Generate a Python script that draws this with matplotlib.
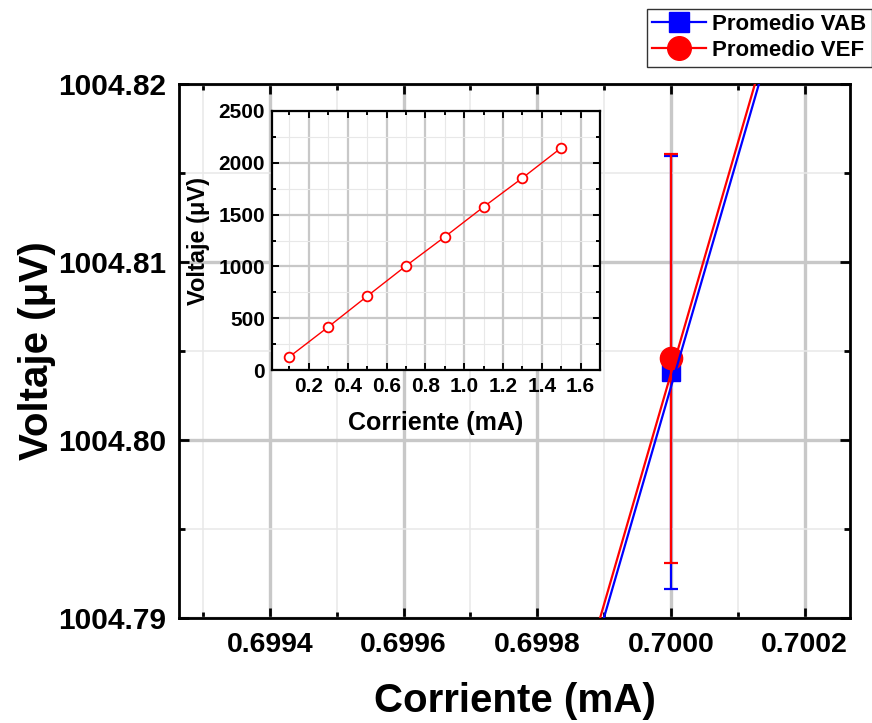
#!/usr/bin/python3
import matplotlib
matplotlib.use('Agg')
import matplotlib.pyplot as plt
from matplotlib.ticker import MultipleLocator, FormatStrFormatter

plt.rcParams['font.family'] = ['Liberation Sans', 'DejaVu Sans']
plt.rcParams['font.weight'] = 'bold'
plt.rcParams['axes.labelweight'] = 'bold'

# promedios a 0.7 mA
corriente_prom = [0.7000]
vab_prom = [1004.8038]
vab_err = [0.01216]
vef_prom = [1004.8046]
vef_err = [0.01149]

# rectas de ajuste en la zona ampliada
vab_fit_x = [0.6998997, 0.7001317]
vab_fit_y = [1004.79, 1004.82]
vef_fit_x = [0.6998940, 0.7001257]
vef_fit_y = [1004.79, 1004.82]

# curva completa (recuadro)
corriente = [0.1, 0.3, 0.5, 0.7, 0.9, 1.1, 1.3, 1.5]
voltaje = [128, 416, 712, 1004.8, 1285, 1574, 1853, 2144]

xticks_main = [0.6994, 0.6996, 0.6998, 0.7000, 0.7002]
yticks_main = [1004.79, 1004.80, 1004.81, 1004.82]


def estilo_ejes(ax, grid_major, grid_minor, spine_w, maj_len, min_len, tick_w):
    for s in ax.spines.values():
        s.set_linewidth(spine_w)
    ax.tick_params(which='both', direction='in', top=True, right=True, width=tick_w)
    ax.tick_params(which='major', length=maj_len)
    ax.tick_params(which='minor', length=min_len)
    ax.grid(True, which='major', color='#c8c8c8', linewidth=grid_major)
    ax.grid(True, which='minor', color='#e8e8e8', linewidth=grid_minor)
    ax.set_axisbelow(True)


if __name__ == '__main__':

    fig = plt.figure()
    fig.set_size_inches(8.72, 7.23)

    ax = fig.add_axes([0.2053, 0.1452, 0.7695, 0.7386])

    ax.errorbar(corriente_prom, vab_prom, yerr=vab_err, fmt='none', ecolor='blue',
                elinewidth=1.6, capsize=4.7, capthick=1.6, zorder=3)
    ax.plot(corriente_prom, vab_prom, 's', color='blue', markersize=13.5, zorder=4)
    ax.errorbar(corriente_prom, vef_prom, yerr=vef_err, fmt='none', ecolor='red',
                elinewidth=1.6, capsize=4.7, capthick=1.6, zorder=5)
    ax.plot(corriente_prom, vef_prom, 'o', color='red', markersize=16, zorder=6)

    ax.plot(vab_fit_x, vab_fit_y, '-', color='blue', linewidth=1.6, zorder=7)
    ax.plot(vef_fit_x, vef_fit_y, '-', color='red', linewidth=1.6, zorder=7)

    ax.set_xlim(0.699264, 0.700268)
    ax.set_ylim(1004.79, 1004.82)
    ax.set_xticks(xticks_main)
    ax.set_yticks(yticks_main)
    ax.xaxis.set_major_formatter(FormatStrFormatter('%.4f'))
    ax.yaxis.set_major_formatter(FormatStrFormatter('%.2f'))
    ax.xaxis.set_minor_locator(MultipleLocator(0.0001))
    ax.yaxis.set_minor_locator(MultipleLocator(0.005))
    estilo_ejes(ax, 2.4, 1.1, 2.0, 7, 4, 2.0)
    ax.tick_params(axis='x', labelsize=20.5, pad=10)
    ax.tick_params(axis='y', labelsize=21.5, pad=9)
    ax.set_xlabel('Corriente (mA)', fontsize=29, labelpad=17)
    ax.set_ylabel('Voltaje (μV)', fontsize=29, labelpad=2)

    # leyenda fuera del área de los ejes
    h1, = ax.plot([], [], '-s', color='blue', markersize=14.5, linewidth=1.6)
    h2, = ax.plot([], [], '-o', color='red', markersize=17, linewidth=1.6)
    leg = fig.legend([h1, h2], ['Promedio VAB', 'Promedio VEF'], loc='upper right',
                     bbox_to_anchor=(1.0, 0.988), frameon=True,
                     fancybox=False, edgecolor='black', handlelength=2.4,
                     handletextpad=0.3, borderpad=0.25, labelspacing=0.22,
                     borderaxespad=0.0, prop={'weight': 'bold', 'size': 16})
    leg.get_frame().set_linewidth(1.0)

    # recuadro con la curva completa
    axi = fig.add_axes([0.3119, 0.4882, 0.3762, 0.3583])
    axi.plot(corriente, voltaje, '-o', color='red', linewidth=1.0, markersize=7,
             markerfacecolor='white', markeredgewidth=1.3, zorder=3)
    axi.set_xlim(0.01, 1.70)
    axi.set_ylim(0, 2500)
    axi.xaxis.set_major_locator(MultipleLocator(0.2))
    axi.xaxis.set_minor_locator(MultipleLocator(0.1))
    axi.yaxis.set_major_locator(MultipleLocator(500))
    axi.yaxis.set_minor_locator(MultipleLocator(250))
    axi.xaxis.set_major_formatter(FormatStrFormatter('%.1f'))
    estilo_ejes(axi, 1.6, 0.8, 1.6, 5, 3, 1.4)
    axi.tick_params(labelsize=15, pad=5)
    axi.set_xlabel('Corriente (mA)', fontsize=18, labelpad=11)
    axi.set_ylabel('Voltaje (μV)', fontsize=17, labelpad=6)

    fig.savefig('out.png', dpi=100)
